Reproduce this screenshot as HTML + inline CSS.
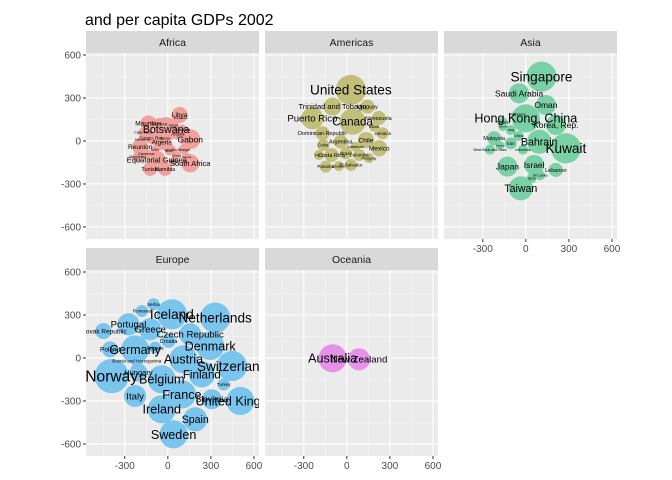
<!DOCTYPE html>
<html><head><meta charset="utf-8">
<style>
body{margin:0;background:#fff;}
svg{display:block;font-family:"Liberation Sans",Arial,sans-serif;}
</style></head>
<body>
<svg id="chart" width="672" height="480" viewBox="0 0 672 480" xmlns="http://www.w3.org/2000/svg">
<text x="85" y="25" font-size="16" fill="#000">and per capita GDPs 2002</text>
</svg>
<script>
// Data in data units (x, y, radius)
const africaNames=["Libya","Mauritius","Botswana","Gabon","Algeria","Reunion","Equatorial Guinea","South Africa","Tunisia","Namibia","Egypt","Morocco","Swaziland","Cape Verde","Congo, Rep.","Angola","Seychelles","Lesotho","Cameroon","Senegal","Ghana","Kenya","Guinea","Sudan","Benin","Zimbabwe","Mauritania","Djibouti"];
const africaX=[82,-135,-12,156,-42,-193,-77,156,-123,-19,40,-60,100,-170,-110,70,-210,20,-150,110,60,-20,130,-90,10,90,-180,40];
const africaY=[182,123,82,12,-7,-40,-133,-156,-195,-195,110,120,80,60,20,50,-110,-60,-90,-60,-100,20,-110,-60,-70,160,10,-140];
const africaR=[56,56,84,70,56,56,63,63,49,49,35,40,35,35,42,40,35,35,35,35,30,35,30,30,30,28,28,28];

const amerNames=["United States","Canada","Puerto Rico","Trinidad and Tobago","Uruguay","Venezuela","Jamaica","Chile","Argentina","Dominican Republic","Mexico","Cuba","Costa Rica","Colombia","Brazil","Panama","El Salvador","Ecuador","Paraguay","Peru","Bolivia","Guatemala"];
const amerX=[28,40,-240,-100,144,223,249,133,-42,-170,226,-165,-107,86,-7,-147,28,-56,154,-195,190,60];
const amerY=[356,135,158,240,240,160,54,7,-5,54,-51,-28,-98,-98,-86,-179,-167,-175,-119,-98,100,-40];
const amerR=[105,91,77,63,49,49,42,56,49,49,56,42,49,42,42,42,42,35,35,35,35,35];

const asiaNames=["Singapore","Saudi Arabia","Oman","Hong Kong, China","Korea, Rep.","Bahrain","Kuwait","Japan","Israel","Lebanon","Taiwan","Malaysia","Iran","Iraq","Philippines","Thailand","China","Indonesia","Sri Lanka","Syria","West Bank and Gaza","Jordan","Yemen"];
const asiaX=[109,-47,140,0,209,93,279,-128,58,209,-35,-221,-105,-105,-60,-160,-50,-20,100,40,-250,-180,-160];
const asiaY=[449,333,251,158,112,-5,-51,-179,-167,-202,-330,19,-16,77,185,130,35,-60,-240,-260,-60,-30,100];
const asiaR=[105,70,70,98,70,84,105,70,70,49,84,49,42,35,35,35,35,35,35,35,35,30,30];

const euroNames=["Iceland","Netherlands","Serbia","Romania","Portugal","Slovak Republic","Greece","Czech Republic","Croatia","Poland","Germany","Denmark","Bulgaria","Austria","Bosnia and Herzegovina","Switzerland","Norway","Hungary","Belgium","Finland","Turkey","Italy","France","Slovenia","United Kingdom","Ireland","Spain","Sweden"];
const euroX=[28,330,-100,-181,-274,-449,-123,156,5,-402,-228,295,-88,109,-216,447,-391,-205,-42,237,389,-228,98,307,505,-42,191,40];
const euroY=[305,281,375,328,235,188,200,165,119,60,60,84,72,-9,-21,-56,-126,-102,-149,-114,-184,-265,-254,-288,-300,-358,-428,-533];
const euroR=[105,105,42,42,77,56,77,77,49,56,98,98,42,98,42,105,119,63,98,91,42,77,98,70,98,98,84,98];

const oceNames=["Australia","New Zealand"];
const oceX=[-99,85];
const oceY=[-2,-9];
const oceR=[98,77];

const xTicks=[-300,0,300,600];
const yTicks=[600,300,0,-300,-600];
const xMinor=[-450,-150,150,450];
const yMinor=[450,150,-150,-450];

const XMIN=-570,XMAX=635,YMIN=-684,YMAX=614,PW=173,PH=186;
const SX=PW/(XMAX-XMIN), SY=PH/(YMAX-YMIN);

const panels=[
 {name:"Africa",col:0,row:0,names:africaNames,xs:africaX,ys:africaY,rs:africaR,fill:"#F0A19C"},
 {name:"Americas",col:1,row:0,names:amerNames,xs:amerX,ys:amerY,rs:amerR,fill:"#C2BF7A"},
 {name:"Asia",col:2,row:0,names:asiaNames,xs:asiaX,ys:asiaY,rs:asiaR,fill:"#7BD1A6"},
 {name:"Europe",col:0,row:1,names:euroNames,xs:euroX,ys:euroY,rs:euroR,fill:"#79C5EE"},
 {name:"Oceania",col:1,row:1,names:oceNames,xs:oceX,ys:oceY,rs:oceR,fill:"#E493E9"}
];
const NS="http://www.w3.org/2000/svg";
const svg=document.getElementById("chart");
function mk(tag,attrs,parent){const e=document.createElementNS(NS,tag);for(const k in attrs)e.setAttribute(k,attrs[k]);(parent||svg).appendChild(e);return e;}
const colX=[86,265,444], stripY=[31,248];

panels.forEach((p,pi)=>{
  const px=colX[p.col], sy=stripY[p.row], py=sy+22;
  const g=mk("g",{});
  
  
  const strip=mk("rect",{x:px,y:sy,width:PW,height:22,fill:"#D9D9D9"},g);
  
  
  const st=mk("text",{x:px+PW/2,y:sy+15,"text-anchor":"middle","font-size":"10.5",fill:"#1A1A1A"},g);
  st.textContent=p.name;
  
  
  const bg=mk("rect",{x:px,y:py,width:PW,height:PH,fill:"#EBEBEB"},g);
  
  
  const xs=v=>px+(v-XMIN)*SX, ys=v=>py+(YMAX-v)*SY;
  xMinor.forEach(v=>mk("line",{x1:xs(v),x2:xs(v),y1:py,y2:py+PH,stroke:"#F5F5F5","stroke-width":0.6},g));
  yMinor.forEach(v=>mk("line",{x1:px,x2:px+PW,y1:ys(v),y2:ys(v),stroke:"#F5F5F5","stroke-width":0.6},g));
  xTicks.forEach(v=>mk("line",{x1:xs(v),x2:xs(v),y1:py,y2:py+PH,stroke:"#fff","stroke-width":1.1},g));
  yTicks.forEach(v=>mk("line",{x1:px,x2:px+PW,y1:ys(v),y2:ys(v),stroke:"#fff","stroke-width":1.1},g));
  const cp=mk("clipPath",{id:"clip"+pi},g);
  mk("rect",{x:px,y:py,width:PW,height:PH},cp);
  const cg=mk("g",{"clip-path":"url(#clip"+pi+")"},g);
  p.names.forEach((n,i)=>{
    const c=mk("circle",{cx:xs(p.xs[i]),cy:ys(p.ys[i]),r:p.rs[i]*SX,fill:p.fill},cg);
    
    
  });
  p.names.forEach((n,i)=>{
    const fs=Math.max(3,p.rs[i]*SX-1.5);
    const t=mk("text",{x:xs(p.xs[i]),y:ys(p.ys[i])+fs*0.35,"text-anchor":"middle","font-size":fs.toFixed(1),fill:"#000"},cg);
    t.textContent=n;
    
    
  });
  // y axis on first column
  if(p.col===0){
    yTicks.forEach(v=>{
      mk("line",{x1:px-3,x2:px,y1:ys(v),y2:ys(v),stroke:"#333","stroke-width":1},g);
      const t=mk("text",{x:px-5,y:ys(v)+3.5,"text-anchor":"end","font-size":"10",fill:"#4D4D4D"},g);
      t.textContent=v;
      
      
    });
  }
  // x axis on bottom panels of each column
  if(p.row===1||p.col===2){
    xTicks.forEach(v=>{
      mk("line",{x1:xs(v),x2:xs(v),y1:py+PH,y2:py+PH+3,stroke:"#333","stroke-width":1},g);
      const t=mk("text",{x:xs(v),y:py+PH+13,"text-anchor":"middle","font-size":"10",fill:"#4D4D4D"},g);
      t.textContent=v;
      
      
    });
  }
});
</script>
</body></html>
